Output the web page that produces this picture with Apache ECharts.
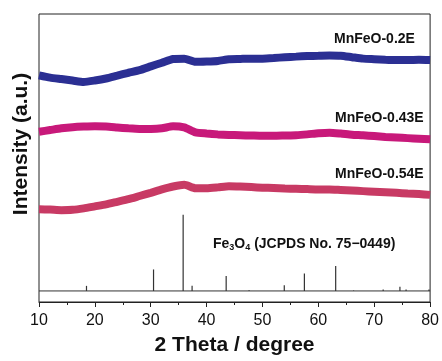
<!DOCTYPE html>
<html>
<head>
<meta charset="utf-8">
<script src="https://cdn.jsdelivr.net/npm/echarts@6/dist/echarts.min.js"></script>
<style>
  html, body { margin: 0; padding: 0; background: #fff; }
  #chart { width: 442px; height: 361px; }
</style>
</head>
<body>
<div id="chart"></div>
<script>
// 2θ positions (degree), 2-degree steps
const twoTheta = [10,12,14,16,18,20,22,24,26,28,30,32,34,36,38,40,42,44,46,48,50,52,54,56,58,60,62,64,66,68,70,72,74,76,78,80]

// intensities (a.u., offset for stacking)
const mn02E = [78.7,77.9,77.4,76.9,76.4,76.9,77.6,78.6,79.6,80.5,81.8,83.1,84.4,84.5,83.4,83.5,83.7,84.3,84.4,84.5,84.5,84.7,85.0,85.2,85.4,85.5,85.6,85.5,85.0,84.5,84.3,84.1,84.0,84.0,84.1,84.0]
const mn043E = [59.1,59.7,60.3,60.7,60.9,61.0,60.9,60.6,60.3,60.1,60.1,60.3,61.0,60.6,58.9,58.5,58.2,58.0,57.9,57.8,57.7,57.7,57.8,57.9,58.2,58.6,58.8,58.5,58.1,57.9,57.6,57.3,57.1,56.9,56.7,56.5]
const mn054E = [32.2,32.1,31.9,32.0,32.5,33.2,33.9,34.8,35.7,36.8,37.9,39.1,40.1,40.7,39.5,39.5,39.8,40.2,40.1,39.9,39.7,39.6,39.4,39.3,39.2,39.1,39.1,38.9,38.7,38.5,38.3,38.1,37.9,37.7,37.5,37.2]

// Fe3O4 reference pattern (JCPDS 75-0449)
const stickBase = 3.84
const stickPos = [18.5, 30.5, 35.8, 37.4, 43.5, 47.6, 53.9, 57.5, 63.1, 66.3, 71.6, 74.6, 75.7, 79.8]
const stickTop = [5.6, 11.3, 30.3, 5.6, 9.05, 4.1, 5.8, 9.9, 12.5, 4.0, 4.35, 5.3, 4.35, 4.35]

const xTicks = [10, 20, 30, 40, 50, 60, 70, 80]

const pair = arr => twoTheta.map((x, i) => [x, arr[i]])
const font = 'Liberation Sans, Arial, sans-serif'

const chart = echarts.init(document.getElementById('chart'))

const curve = (name, data, color) => ({
  name,
  type: 'line',
  data: pair(data),
  symbol: 'none',
  smooth: 0.2,
  lineStyle: { color, width: 8 },
  z: 3
})

chart.setOption({
  animation: false,
  grid: {
    left: 39, right: 11, top: 14, bottom: 55,
    show: true, borderColor: '#222', borderWidth: 1
  },
  xAxis: {
    type: 'value',
    min: xTicks[0],
    max: xTicks[xTicks.length - 1],
    interval: 10,
    name: '2 Theta / degree',
    nameLocation: 'middle',
    nameGap: 33,
    nameTextStyle: { fontFamily: font, fontSize: 21, fontWeight: 'bold', color: '#111' },
    axisLine: { show: true, onZero: false, lineStyle: { color: '#222', width: 1 } },
    axisTick: { show: true, inside: false, length: 5, lineStyle: { color: '#222' } },
    minorTick: { show: true, splitNumber: 2, length: 3, lineStyle: { color: '#222' } },
    axisLabel: { fontFamily: font, fontSize: 16, color: '#111', margin: 11 },
    splitLine: { show: false }
  },
  yAxis: {
    type: 'value',
    min: 0,
    max: 100,
    show: false
  },
  series: [
    curve('MnFeO-0.2E', mn02E, '#2b2f93'),
    curve('MnFeO-0.43E', mn043E, '#c8197a'),
    curve('MnFeO-0.54E', mn054E, '#c83a64'),
    {
      type: 'line',
      data: [[xTicks[0], stickBase], [xTicks[xTicks.length - 1], stickBase]],
      symbol: 'none',
      lineStyle: { color: '#333', width: 1 }
    },
    {
      type: 'custom',
      data: stickPos.map((x, i) => [x, stickTop[i]]),
      encode: { x: 0, y: 1 },
      renderItem: (params, api) => {
        const p0 = api.coord([api.value(0), stickBase])
        const p1 = api.coord([api.value(0), api.value(1)])
        return {
          type: 'line',
          shape: { x1: p0[0], y1: p0[1], x2: p1[0], y2: p1[1] },
          style: { stroke: '#333', lineWidth: 1.2 }
        }
      }
    }
  ],
  graphic: [
    {
      type: 'text', x: 21, y: 144, rotation: Math.PI / 2,
      style: { text: 'Intensity (a.u.)', font: `bold 21px ${font}`, fill: '#111', align: 'center', verticalAlign: 'middle' }
    },
    { type: 'text', x: 334, y: 39, style: { text: 'MnFeO-0.2E', font: `bold 14px ${font}`, fill: '#111', verticalAlign: 'middle' } },
    { type: 'text', x: 335, y: 118, style: { text: 'MnFeO-0.43E', font: `bold 14px ${font}`, fill: '#111', verticalAlign: 'middle' } },
    { type: 'text', x: 335, y: 174, style: { text: 'MnFeO-0.54E', font: `bold 14px ${font}`, fill: '#111', verticalAlign: 'middle' } },
    {
      type: 'text', x: 213, y: 244,
      style: {
        text: '{n|Fe}{s|3}{n|O}{s|4}{n| (JCPDS No. 75\u22120449)}',
        verticalAlign: 'middle',
        rich: {
          n: { font: `bold 14px ${font}`, fill: '#111', color: '#111' },
          s: { font: `bold 9px ${font}`, fill: '#111', color: '#111', padding: [8, 0, 0, 0] }
        }
      }
    }
  ]
})
</script>
</body>
</html>
